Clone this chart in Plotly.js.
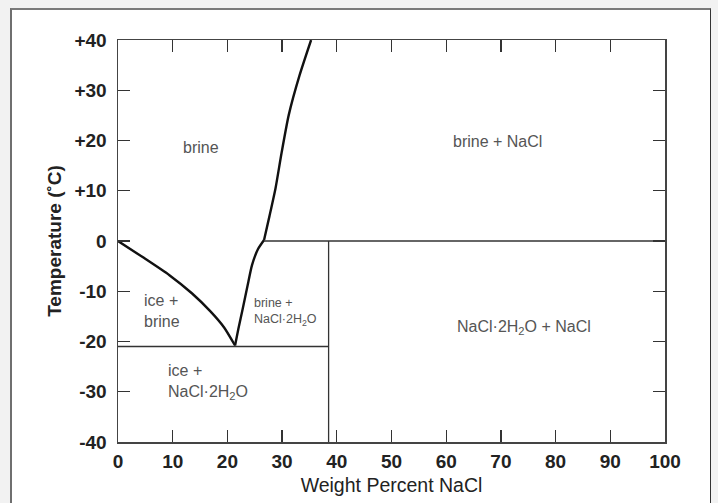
<!DOCTYPE html>
<html>
<head>
<meta charset="utf-8">
<script src="https://cdn.plot.ly/plotly-3.0.1.min.js"></script>
<style>
html,body{margin:0;padding:0;background:#f2f2f2;width:718px;height:503px;overflow:hidden;}
#frame{position:absolute;left:10px;top:8px;width:698px;height:520px;background:#fff;border-left:2px solid #6f6f6f;border-top:2px solid #7a7a7a;border-right:1px solid #333;}
#chart{position:absolute;left:0;top:0;width:718px;height:503px;}
</style>
</head>
<body>
<div id="frame"></div>
<div id="chart"></div>
<script>
// Ice liquidus (ice + brine boundary)
var iceX = [0, 4.5, 9.4, 13.5, 16.9, 19.4, 21.4];
var iceY = [0, -3.2, -6.8, -10.4, -14.0, -17.2, -20.8];
// Hydrohalite liquidus (below 0 °C)
var hydX = [21.4, 22.0, 22.8, 23.7, 24.5, 25.6, 26.7];
var hydY = [-20.8, -17.5, -13.5, -8.8, -4.8, -1.6, 0.2];
// Halite liquidus (above 0 °C)
var halX = [26.7, 27.7, 28.8, 29.9, 31.2, 33.2, 35.3];
var halY = [0.2, 5, 10.5, 17.5, 25, 33, 40];
// Horizontal/vertical phase boundaries
var peritecticX = [26.7, 100], peritecticY = [0, 0];
var eutecticX = [0, 38.5], eutecticY = [-21, -21];
var hydrohaliteX = [38.5, 38.5], hydrohaliteY = [-40, 0];

var xTicks = [0,10,20,30,40,50,60,70,80,90,100];
var xTickText = ['0','10','20','30','40','50','60','70','80','90','100'];
var yTicks = [-40,-30,-20,-10,0,10,20,30,40];
var yTickText = ['-40','-30','-20','-10','0','+10','+20','+30','+40'];

// Region labels
var labelX = [15.1, 69.3, 8.0, 30.6, 16.4, 74.2];
var labelY = [18.7, 19.9, -13.9, -14.1, -28.0, -17.3];
var labelText = ['brine', 'brine + NaCl', 'ice +<br>brine', 'brine +<br>NaCl·2H<sub>2</sub>O', 'ice +<br>NaCl·2H<sub>2</sub>O', 'NaCl·2H<sub>2</sub>O + NaCl'];
var labelSize = [16, 16, 16, 12.5, 16, 16];

var FONT = 'Liberation Sans, Arial, sans-serif';

function line(x, y, w){
  return {x:x, y:y, type:'scatter', mode:'lines', line:{color:'#111', width:w, shape:'spline', smoothing:0.6}, hoverinfo:'skip', showlegend:false};
}
var traces = [
  line(iceX, iceY, 2.4),
  line(hydX, hydY, 2.4),
  line(halX, halY, 2.4),
  {x:peritecticX, y:peritecticY, type:'scatter', mode:'lines', line:{color:'#333', width:1.3}, showlegend:false},
  {x:eutecticX, y:eutecticY, type:'scatter', mode:'lines', line:{color:'#333', width:1.3}, showlegend:false},
  {x:hydrohaliteX, y:hydrohaliteY, type:'scatter', mode:'lines', line:{color:'#333', width:1.3}, showlegend:false}
];

var annotations = labelX.map(function(x, i){
  return {x:x, y:labelY[i], xref:'x', yref:'y', text:labelText[i], showarrow:false,
    align:'left',
    font:{family:FONT, size:labelSize[i], color:'#555'}};
});

var layout = {
  width:718, height:503,
  margin:{l:118, r:53, t:40, b:61},
  paper_bgcolor:'rgba(0,0,0,0)', plot_bgcolor:'#fff',
  showlegend:false,
  xaxis:{range:[0,100], tickvals:xTicks, ticktext:xTickText, ticks:'inside', ticklen:12, tickwidth:1.3, tickcolor:'#333',
    showline:true, linecolor:'#444', linewidth:1.5, mirror:'ticks', showgrid:false, zeroline:false,
    ticklabelstandoff:2,
    tickfont:{family:FONT, size:19, color:'#222', weight:'bold'},
    title:{text:'Weight Percent NaCl', standoff:7, font:{family:FONT, size:19.5, color:'#222'}}},
  yaxis:{range:[-40,40], tickvals:yTicks, ticktext:yTickText, ticks:'inside', ticklen:12, tickwidth:1.3, tickcolor:'#333',
    showline:true, linecolor:'#444', linewidth:1.5, mirror:'ticks', showgrid:false, zeroline:false,
    ticklabelstandoff:6,
    tickfont:{family:FONT, size:19, color:'#222', weight:'bold'},
    title:{text:'Temperature (˚C)', standoff:8, font:{family:FONT, size:19, color:'#222', weight:'bold'}}},
  annotations:annotations
};
Plotly.newPlot('chart', traces, layout, {staticPlot:true, displayModeBar:false});
</script>
</body>
</html>
